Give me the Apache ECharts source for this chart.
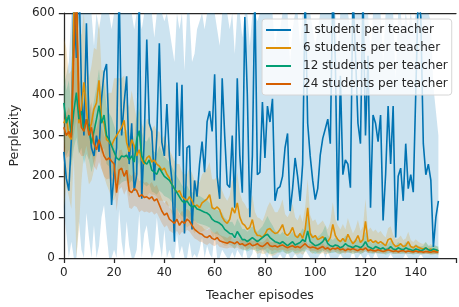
<!DOCTYPE html>
<html>
<head>
<meta charset="utf-8">
<script src="https://cdn.jsdelivr.net/npm/echarts@6/dist/echarts.min.js"></script>
<style>
  html, body { margin: 0; padding: 0; background: #fff; }
  #chart { width: 459px; height: 307px; }
</style>
</head>
<body>
<div id="chart"></div>
<script>
const seriesNames = ['1 student per teacher', '6 students per teacher', '12 students per teacher', '24 students per teacher']
const colors = ['#0173b2', '#de8f05', '#029e73', '#d55e00']
const xTicks = [0, 20, 40, 60, 80, 100, 120, 140]
const yTicks = [0, 100, 200, 300, 400, 500, 600]

// 1 student per teacher: mean and band edges
const blueMean = [260,195,165,290,650,490,700,420,300,575,
  330,270,250,300,260,390,455,475,300,130,
  210,270,660,300,380,445,230,330,165,205,
  650,145,290,535,330,310,190,300,526,283,
  250,377,250,190,40,430,250,424,60,270,
  275,70,190,150,230,285,210,334,360,310,
  450,200,145,440,300,180,173,300,123,440,
  252,160,590,400,100,250,650,204,210,382,
  245,372,333,390,140,170,175,200,270,305,
  115,170,245,200,140,230,650,330,250,190,
  143,170,252,293,316,340,280,660,486,92,
  446,204,240,230,172,650,502,330,280,650,
  300,495,123,350,330,285,350,92,204,372,
  230,372,50,200,220,140,280,170,204,161,
  405,650,590,280,204,230,190,27,100,140]
const blueLower = [120,60,0,40,0,0,90,20,0,110,
  50,0,80,0,30,100,130,60,0,0,
  20,0,120,40,0,90,30,0,0,20,
  110,0,60,80,30,0,20,100,40,0,
  70,0,20,0,0,60,10,30,0,0,
  40,0,10,0,20,50,0,30,10,0,
  60,0,0,20,10,0,0,15,0,20,
  10,0,30,0,0,10,40,0,0,20,
  10,0,20,0,0,0,10,0,0,15,
  0,0,10,0,0,0,20,10,0,0,
  0,0,10,20,0,15,0,0,0,0,
  10,0,0,0,0,20,0,0,10,0,
  0,10,0,0,15,0,0,0,0,0,
  10,0,0,0,0,0,10,0,0,0,
  0,0,10,0,0,0,0,0,0,0]
const blueUpper = [420,450,480,600,900,850,900,800,700,850,
  700,620,520,600,560,700,750,800,620,560,
  620,700,900,680,720,800,600,700,560,650,
  900,560,650,850,700,620,540,620,800,600,
  580,700,560,520,480,750,560,750,460,620,
  620,480,500,560,580,640,560,680,700,660,
  800,560,520,800,700,600,560,650,500,800,
  620,540,900,750,520,640,900,580,600,750,
  640,760,700,760,520,560,560,600,660,700,
  480,560,640,600,520,620,900,720,640,560,
  520,560,640,680,700,720,660,900,850,520,
  800,600,640,620,560,900,850,700,660,900,
  680,850,500,720,700,660,720,480,600,750,
  620,750,440,600,620,540,660,560,600,560,
  780,900,900,660,600,620,580,420,360,300]

// 6 students per teacher
const orangeMean = [330,345,300,290,600,640,330,365,430,360,
  310,330,365,380,435,340,330,290,285,275,
  290,300,310,320,337,283,260,290,275,250,
  265,240,230,245,250,235,240,230,225,215,
  220,205,196,180,170,160,165,150,145,140,
  150,140,125,130,123,135,140,145,155,123,
  120,125,118,100,90,85,95,123,110,135,
  100,85,80,70,75,94,65,55,55,50,
  58,70,72,65,60,62,70,82,60,55,
  62,75,55,50,60,48,70,123,60,50,
  55,45,48,52,45,40,50,82,55,45,
  40,48,40,58,45,35,42,55,38,45,
  90,40,45,38,42,36,40,35,30,45,
  48,35,28,30,35,28,30,40,28,25,
  30,26,24,22,25,20,22,18,20,17]
const orangeSpread = [210,170,150,170,350,640,260,180,170,140,
  130,140,150,130,150,120,130,110,120,130,
  150,140,130,120,110,100,110,120,100,90,
  100,90,85,95,90,80,85,80,85,75,
  80,75,70,72,68,70,65,62,60,65,
  70,68,65,60,62,70,72,75,80,70,
  72,75,70,65,60,55,58,70,62,75,
  60,55,52,50,50,60,48,45,42,40,
  48,55,65,60,52,50,55,62,48,45,
  50,58,45,42,48,40,55,70,45,40,
  40,35,38,40,35,30,38,55,40,35,
  30,35,30,40,32,25,30,38,28,32,
  55,28,30,26,28,25,26,22,20,28,
  30,22,18,18,20,16,18,24,16,14,
  16,14,12,12,14,10,12,10,10,8]

// 12 students per teacher
const greenMean = [380,330,350,300,360,405,340,360,310,340,
  320,280,310,340,373,330,350,300,290,275,
  260,245,240,250,248,252,240,250,235,290,
  312,250,235,230,240,215,210,205,220,210,
  200,195,190,180,170,160,150,140,135,140,
  130,125,128,120,118,115,112,110,105,95,
  90,88,85,80,70,65,60,59,50,65,
  55,45,45,40,45,50,45,40,45,50,
  55,58,50,45,40,38,35,40,35,30,
  35,40,32,35,38,45,40,66,40,35,
  30,32,35,40,50,35,30,28,32,30,
  25,28,35,30,28,25,30,28,25,30,
  40,28,25,22,28,25,22,25,20,22,
  28,22,20,25,22,20,25,22,20,18,
  22,20,18,20,25,20,18,22,20,18]
const greenSpread = [90,80,85,75,90,110,85,90,80,85,
  80,70,75,80,90,75,80,70,65,70,
  65,60,62,65,60,62,58,60,55,70,
  75,60,55,55,58,52,50,50,55,50,
  48,46,45,44,42,40,40,38,36,38,
  36,35,36,34,34,33,32,32,30,30,
  30,30,30,30,28,28,28,30,28,32,
  30,26,26,24,26,28,26,24,26,28,
  35,45,40,35,28,24,22,24,22,20,
  22,24,20,22,24,28,25,40,25,22,
  20,20,22,25,30,22,18,16,18,18,
  15,16,20,18,16,15,18,16,15,18,
  24,16,14,12,15,14,12,14,12,12,
  15,12,10,14,12,10,14,12,10,10,
  12,10,10,10,14,10,10,12,10,10]

// 24 students per teacher
const redMean = [320,300,310,295,500,660,380,320,310,340,
  300,320,280,265,290,270,250,240,245,237,
  230,160,215,220,200,215,165,160,170,165,
  150,155,148,150,145,150,140,145,130,115,
  105,110,95,90,85,95,80,90,85,95,
  90,80,70,65,60,58,52,50,55,48,
  45,50,42,40,38,36,40,38,35,40,
  33,35,30,33,36,30,32,35,30,28,
  32,38,30,28,30,27,30,32,28,25,
  28,30,26,28,25,30,35,28,25,27,
  25,22,25,28,22,25,20,24,22,25,
  20,22,18,22,20,23,20,18,22,20,
  25,18,20,18,17,20,18,16,18,20,
  18,16,18,15,17,18,15,17,16,15,
  17,15,16,14,16,15,14,16,15,14]
const redSpread = [60,55,60,55,200,320,120,70,60,65,
  60,62,55,50,55,52,50,48,50,48,
  46,45,48,46,45,46,42,40,42,40,
  38,38,36,36,35,36,34,34,32,30,
  30,30,28,27,26,28,25,26,25,26,
  25,24,22,20,20,19,18,18,18,16,
  16,16,15,14,14,13,14,13,12,14,
  12,12,11,12,12,11,11,12,10,10,
  11,13,10,10,10,9,10,11,9,9,
  9,10,9,9,8,10,11,9,8,9,
  8,7,8,9,7,8,7,8,7,8,
  7,7,6,7,7,8,7,6,7,7,
  8,6,7,6,6,7,6,6,6,7,
  6,6,6,5,6,6,5,6,6,5,
  6,5,6,5,6,5,5,6,5,5]

const episodes = blueMean.map((v, i) => i)

const fontFamily = 'DejaVu Sans'
const ink = '#262626'
const yMin = yTicks[0]
const yMax = yTicks[yTicks.length - 1]

// confidence band drawn as one polygon through the axes' coordinate system
function bandSeries(key, lower, upper, color) {
  return {
    name: key, type: 'custom', silent: true, z: 1,
    data: [[0, 0]],
    renderItem: function (params, api) {
      let top = episodes.map((x, i) => api.coord([x, Math.min(yMax, upper[i])]))
      let bottom = episodes.map((x, i) => api.coord([x, Math.max(yMin, lower[i])])).reverse()
      return {
        type: 'polygon',
        shape: { points: top.concat(bottom) },
        style: { fill: color, opacity: 0.2 }
      }
    }
  }
}

function spreadBand(key, mean, spread, color) {
  let lower = mean.map((m, i) => m - spread[i])
  let upper = mean.map((m, i) => m + spread[i])
  return bandSeries(key, lower, upper, color)
}

function meanSeries(name, mean, color) {
  return {
    name: name, type: 'line', symbol: 'none', z: 3,
    lineStyle: { color: color, width: 1.6 },
    itemStyle: { color: color },
    data: episodes.map((x, i) => [x, mean[i]])
  }
}

let chart = echarts.init(document.getElementById('chart'))
let option = {
  animation: false,
  grid: { left: 59, right: 0, top: 13, bottom: 46 },
  legend: {
    data: seriesNames,
    orient: 'vertical',
    left: 262,
    top: 19,
    icon: 'rect',
    itemWidth: 25,
    itemHeight: 2,
    itemGap: 4,
    padding: [4, 4, 4, 4],
    backgroundColor: 'rgba(255,255,255,0.8)',
    borderColor: '#d6d6d6',
    borderWidth: 1,
    borderRadius: 3,
    textStyle: { fontFamily: fontFamily, fontSize: 12, color: ink, padding: [0, 0, 0, 7], lineHeight: 14 }
  },
  xAxis: [
    {
      type: 'value', min: 0, max: 156, interval: 20,
      name: 'Teacher episodes', nameLocation: 'middle', nameGap: 31,
      nameTextStyle: { fontFamily: fontFamily, fontSize: 12.5, color: ink },
      axisLine: { lineStyle: { color: ink, width: 1.25 } },
      axisTick: { length: 5, lineStyle: { color: ink, width: 1.25 } },
      axisLabel: {
        fontFamily: fontFamily, fontSize: 12, color: ink, margin: 9,
        formatter: v => (xTicks.indexOf(v) >= 0 ? String(v) : '')
      },
      splitLine: { show: false }
    },
    {
      type: 'value', position: 'top', min: 0, max: 156,
      axisLine: { show: true, lineStyle: { color: ink, width: 1.25 } },
      axisTick: { show: false }, axisLabel: { show: false }, splitLine: { show: false }
    }
  ],
  yAxis: {
    type: 'value', min: yMin, max: yMax, interval: 100,
    name: 'Perplexity', nameLocation: 'middle', nameGap: 40,
    nameTextStyle: { fontFamily: fontFamily, fontSize: 12.5, color: ink },
    axisLine: { show: true, lineStyle: { color: ink, width: 1.25 } },
    axisTick: { show: true, length: 5, lineStyle: { color: ink, width: 1.25 } },
    axisLabel: { fontFamily: fontFamily, fontSize: 12, color: ink, margin: 9 },
    splitLine: { show: false }
  },
  series: [
    bandSeries('b0', blueLower, blueUpper, colors[0]),
    spreadBand('b1', orangeMean, orangeSpread, colors[1]),
    spreadBand('b2', greenMean, greenSpread, colors[2]),
    spreadBand('b3', redMean, redSpread, colors[3]),
    meanSeries(seriesNames[0], blueMean, colors[0]),
    meanSeries(seriesNames[1], orangeMean, colors[1]),
    meanSeries(seriesNames[2], greenMean, colors[2]),
    meanSeries(seriesNames[3], redMean, colors[3])
  ]
}
option && chart.setOption(option)
</script>
</body>
</html>
